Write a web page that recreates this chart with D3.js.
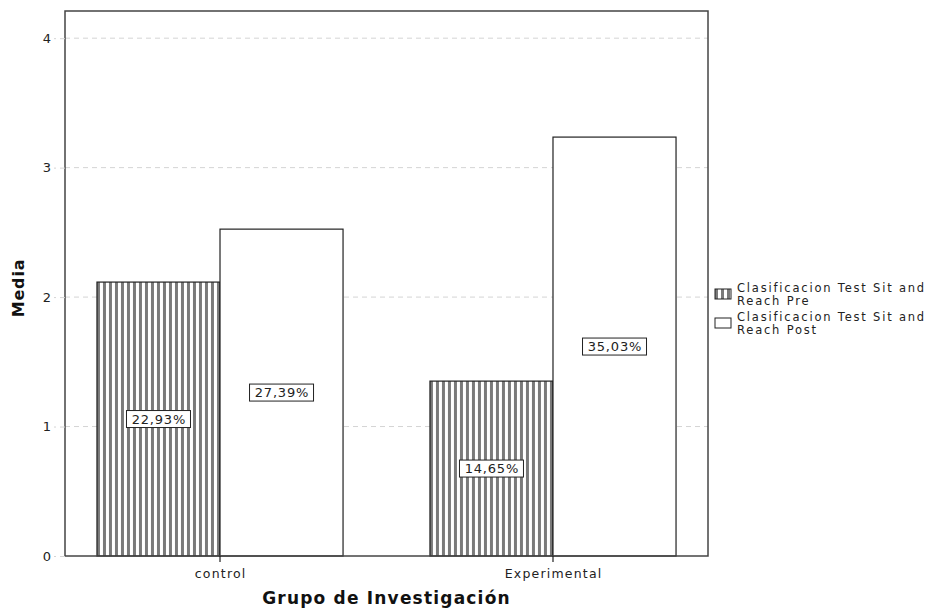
<!DOCTYPE html>
<html><head><meta charset="utf-8">
<script src="https://cdn.jsdelivr.net/npm/d3@7"></script>
<style>body{margin:0;background:#fff}svg{display:block}</style>
</head><body>
<svg id="c" width="931" height="609"></svg>
<script>
const categories = ["control", "Experimental"];
const seriesNames = ["Clasificacion Test Sit and Reach Pre", "Clasificacion Test Sit and Reach Post"];
const preValues = [2.116, 1.351];
const postValues = [2.525, 3.236];
const preLabels = ["22,93%", "14,65%"];
const postLabels = ["27,39%", "35,03%"];
const yTicks = [0, 1, 2, 3, 4];

const svg = d3.select("#c");
const L = 65, R = 708, T = 11, B = 556;
const font = "DejaVu Sans, Verdana, sans-serif";

const defs = svg.append("defs");
const pat = defs.append("pattern").attr("id", "stripes").attr("patternUnits", "userSpaceOnUse")
  .attr("width", 6).attr("height", 10);
pat.append("rect").attr("width", 6).attr("height", 10).attr("fill", "#fff");
pat.append("rect").attr("x", 0).attr("width", 3).attr("height", 10).attr("fill", "#7a7a7a");

const x = d3.scaleBand().domain(categories).range([L, R]).paddingInner(0.261).paddingOuter(0.096);
const xs = d3.scaleBand().domain([0, 1]).range([0, x.bandwidth()]);
const y = d3.scaleLinear().domain([0, 4.21]).range([B, T]);

// gridlines
svg.append("g").selectAll("line").data(yTicks.filter(d => d > 0)).join("line")
  .attr("x1", L).attr("x2", R).attr("y1", d => y(d)).attr("y2", d => y(d))
  .attr("stroke", "#d4d4d4").attr("stroke-dasharray", "5,4").attr("stroke-width", 1);

// bars
const data = categories.map((c, i) => ({ c, vals: [
  { s: 0, v: preValues[i], lab: preLabels[i] },
  { s: 1, v: postValues[i], lab: postLabels[i] }] }));

const g = svg.append("g").selectAll("g").data(data).join("g")
  .attr("transform", d => `translate(${x(d.c)},0)`);
g.selectAll("rect").data(d => d.vals).join("rect")
  .attr("x", d => xs(d.s)).attr("width", xs.bandwidth())
  .attr("y", d => y(d.v)).attr("height", d => y(0) - y(d.v))
  .attr("fill", d => d.s === 0 ? "url(#stripes)" : "#fff")
  .attr("stroke", "#222").attr("stroke-width", 1.2);

// value labels
const lg = g.selectAll("g.lab").data(d => d.vals).join("g").attr("class", "lab")
  .attr("transform", d => `translate(${xs(d.s) + xs.bandwidth() / 2},${y(d.v / 2)})`);
lg.append("rect").attr("x", -32).attr("y", -8.5).attr("width", 64).attr("height", 17)
  .attr("fill", "#fff").attr("stroke", "#222").attr("stroke-width", 1);
lg.append("text").text(d => d.lab).attr("text-anchor", "middle").attr("dy", "0.36em").attr("x", 0.4)
  .attr("font-family", font).attr("font-size", 13).attr("fill", "#222").attr("letter-spacing", 0.8);

// frame
svg.append("rect").attr("x", L).attr("y", T).attr("width", R - L).attr("height", B - T)
  .attr("fill", "none").attr("stroke", "#444").attr("stroke-width", 1.5);

// y axis
const ya = svg.append("g").attr("transform", `translate(${L},0)`)
  .call(d3.axisLeft(y).tickValues(yTicks).tickSize(11).tickPadding(3).tickFormat(d3.format("d")));
ya.select(".domain").remove();
ya.selectAll(".tick line").attr("stroke", "#d4d4d4").attr("stroke-dasharray", "5,4");
ya.selectAll("text").attr("font-family", font).attr("font-size", 13).attr("fill", "#222");

// x axis
const xa = svg.append("g").attr("transform", `translate(0,${B})`)
  .call(d3.axisBottom(x).tickSize(6).tickPadding(7).tickValues(categories));
xa.select(".domain").remove();
xa.selectAll(".tick").attr("transform", d => `translate(${x(d) + x.bandwidth() / 2},0)`);
xa.selectAll(".tick line").attr("stroke", "#222").attr("stroke-width", 1.2);
xa.selectAll("text").attr("font-family", font).attr("font-size", 12.5).attr("fill", "#222")
  .attr("letter-spacing", 1.2).attr("dx", 0.6);

// axis titles
svg.append("text").text("Grupo de Investigación").attr("x", (L + R) / 2).attr("y", 604)
  .attr("text-anchor", "middle").attr("font-family", font).attr("font-weight", "bold")
  .attr("font-size", 17).attr("letter-spacing", 1.2).attr("fill", "#111");
svg.append("text").text("Media").attr("transform", `translate(24,288) rotate(-90)`)
  .attr("text-anchor", "middle").attr("font-family", font).attr("font-weight", "bold")
  .attr("font-size", 16).attr("letter-spacing", 0.8).attr("fill", "#111");

// legend
const leg = svg.append("g").selectAll("g").data(seriesNames).join("g")
  .attr("transform", (d, i) => `translate(715,${292 + i * 29})`);
leg.append("rect").attr("x", 0).attr("y", -3).attr("width", 16).attr("height", 10)
  .attr("fill", (d, i) => i === 0 ? "url(#stripes)" : "#fff").attr("stroke", "#222").attr("stroke-width", 1);
leg.each(function (d) {
  const words = d.split(" ");
  const l1 = words.slice(0, 4).join(" "), l2 = words.slice(4).join(" ");
  const t = d3.select(this).append("text").attr("font-family", font).attr("font-size", 11.5)
    .attr("letter-spacing", 1.8).attr("fill", "#222");
  t.append("tspan").attr("x", 22).attr("y", 0).text(l1);
  t.append("tspan").attr("x", 22).attr("y", 12.5).text(l2);
});
</script>
</body></html>
